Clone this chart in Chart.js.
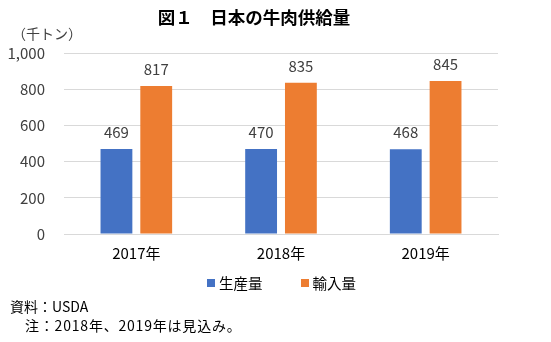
<!DOCTYPE html>
<html lang="ja">
<head>
<meta charset="utf-8">
<script src="https://cdn.jsdelivr.net/npm/chart.js@4/dist/chart.umd.min.js"></script>
<style>
    html, body { margin: 0; padding: 0; background: #fff; }
    body { width: 551px; height: 342px; position: relative; overflow: hidden;
           font-family: "Noto Sans CJK JP", sans-serif; color: #000; }
    #wrap { position: absolute; left: 0; top: 0; width: 551px; height: 342px; }
    .txt { position: absolute; white-space: nowrap; }
    #title { left: 0; width: 508px; top: 4px; text-align: center; font-size: 17.5px; font-weight: bold; }
    #unit { left: 12px; top: 23px; font-size: 14px; color: #404040; }
    #note1 { left: 10px; top: 296px; font-size: 14px; }
    #note2 { left: 25px; top: 315px; font-size: 14px; letter-spacing: 0.8px; }
    #legend { left: 207px; top: 272px; font-size: 14.5px; display: flex; align-items: center; }
    .lg { display: flex; align-items: center; }
    .box { width: 8px; height: 8px; margin-right: 4px; }
</style>
</head>
<body>
<div id="wrap"><canvas id="chart" width="551" height="342"></canvas></div>
<div class="txt" id="title">図１　日本の牛肉供給量</div>
<div class="txt" id="unit">（千トン）</div>
<div class="txt" id="legend"></div>
<div class="txt" id="note1">資料：USDA</div>
<div class="txt" id="note2">注：2018年、2019年は見込み。</div>
<script>
// データ
const categories = ['2017年', '2018年', '2019年'];
const production = [469, 470, 468];
const imports = [817, 835, 845];
const seriesNames = ['生産量', '輸入量'];
const yTicks = [0, 200, 400, 600, 800, 1000];

// 色
const BLUE = '#4472c4';
const ORANGE = '#ed7d31';
const FONT = '"Noto Sans CJK JP", sans-serif';

// 棒の上に数値を描く
const valueLabels = {
    id: 'valueLabels',
    afterDatasetsDraw(chart) {
        const ctx = chart.ctx;
        ctx.save();
        ctx.font = '15px ' + FONT;
        ctx.fillStyle = '#404040';
        ctx.textAlign = 'center';
        ctx.textBaseline = 'bottom';
        chart.data.datasets.forEach((ds, i) => {
            chart.getDatasetMeta(i).data.forEach((bar, j) => {
                ctx.fillText(ds.data[j], bar.x, bar.y - 9);
            });
        });
        ctx.restore();
    }
};

const chart = new Chart(document.getElementById('chart').getContext('2d'), {
    type: 'bar',
    data: {
        labels: categories,
        datasets: [
            { label: seriesNames[0], data: production, backgroundColor: BLUE },
            { label: seriesNames[1], data: imports, backgroundColor: ORANGE }
        ]
    },
    options: {
        responsive: false,
        animation: false,
        events: [],
        categoryPercentage: 0.55,
        barPercentage: 0.8,
        layout: { padding: { left: 0, right: 53, top: 53, bottom: 70 } },
        plugins: {
            title: { display: false },
            tooltip: { enabled: false },
            legend: { display: false }
        },
        scales: {
            x: {
                grid: { display: false, drawTicks: false },
                border: { color: '#d9d9d9' },
                ticks: { padding: 10, color: '#000', font: { family: FONT, size: 15 } }
            },
            y: {
                min: 0,
                max: 1000,
                afterBuildTicks: axis => { axis.ticks = yTicks.map(v => ({ value: v })); },
                afterFit: axis => { axis.width = 64; },
                grid: { color: '#d9d9d9', drawTicks: false },
                border: { display: false },
                ticks: {
                    padding: 19,
                    color: '#404040',
                    font: { family: FONT, size: 15 },
                    callback: v => v.toLocaleString('en-US')
                }
            }
        }
    },
    plugins: [valueLabels]
});

// 凡例 (HTML)
const legend = document.getElementById('legend');
chart.data.datasets.forEach((ds, i) => {
    const item = document.createElement('div');
    item.className = 'lg';
    item.style.marginRight = i === 0 ? '38px' : '0';
    item.innerHTML = `<div class="box" style="background:${ds.backgroundColor}"></div><span>${ds.label}</span>`;
    legend.appendChild(item);
});
</script>
</body>
</html>
